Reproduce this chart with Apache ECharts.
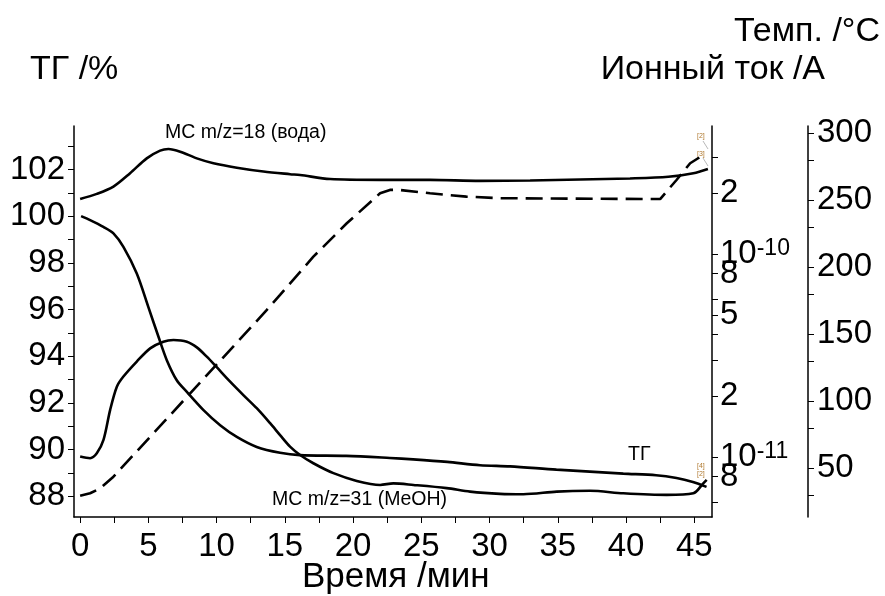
<!DOCTYPE html>
<html>
<head>
<meta charset="utf-8">
<script src="https://cdn.jsdelivr.net/npm/echarts@6/dist/echarts.min.js"></script>
<style>
html,body{margin:0;padding:0;background:#fff}
#main{width:885px;height:596px}
</style>
</head>
<body>
<div id="main"></div>
<script>
// ТГ, %
var tgTime = [0.07, 0.73, 1.7, 2.44, 3.17, 4.15, 5.0, 5.74, 6.35, 7.08, 7.82, 9.04, 10.26, 11.48, 12.94, 14.65, 16.1, 19.5, 22.7, 24.4, 26.9, 29.3, 31.5, 34.9, 39.8, 42.2, 43.7, 44.9, 45.9];
var tgValue = [100.0, 99.83, 99.54, 99.26, 98.68, 97.54, 96.1, 94.83, 93.83, 92.97, 92.47, 91.69, 91.04, 90.54, 90.11, 89.86, 89.76, 89.73, 89.64, 89.58, 89.47, 89.33, 89.28, 89.14, 88.97, 88.9, 88.78, 88.61, 88.4];

// МС m/z=18, A
var ms18Time = [0, 1.22, 2.44, 3.66, 4.88, 5.86, 6.47, 7.33, 8.55, 9.77, 11.48, 13.43, 15.38, 16.12, 18.32, 21.98, 25.64, 29.3, 32.97, 36.63, 40.29, 43.1, 44.93, 46.0];
var ms18Value = [1.866e-10, 1.977e-10, 2.148e-10, 2.5e-10, 2.958e-10, 3.228e-10, 3.289e-10, 3.192e-10, 2.958e-10, 2.799e-10, 2.661e-10, 2.547e-10, 2.472e-10, 2.449e-10, 2.339e-10, 2.317e-10, 2.317e-10, 2.291e-10, 2.301e-10, 2.328e-10, 2.355e-10, 2.399e-10, 2.5e-10, 2.624e-10];

// МС m/z=31, A
var ms31Time = [0, 0.73, 1.22, 1.71, 2.2, 2.69, 3.17, 4.15, 5.13, 6.1, 6.84, 7.82, 8.55, 9.28, 10.01, 10.99, 11.96, 12.94, 13.92, 14.65, 15.38, 16.12, 17.09, 18.56, 20.27, 21.98, 22.95, 24.42, 26.86, 28.57, 30.77, 32.48, 34.92, 37.36, 39.8, 42.98, 44.93, 45.66, 45.91];
var ms31Value = [1.005e-11, 9.86e-12, 1.042e-11, 1.213e-11, 1.706e-11, 2.218e-11, 2.489e-11, 2.951e-11, 3.428e-11, 3.698e-11, 3.767e-11, 3.698e-11, 3.467e-11, 3.119e-11, 2.767e-11, 2.35e-11, 2.018e-11, 1.738e-11, 1.466e-11, 1.282e-11, 1.125e-11, 1.023e-11, 9.31e-12, 8.32e-12, 7.62e-12, 7.28e-12, 7.41e-12, 7.28e-12, 7.02e-12, 6.75e-12, 6.58e-12, 6.55e-12, 6.75e-12, 6.81e-12, 6.62e-12, 6.5e-12, 6.62e-12, 7.41e-12, 7.71e-12];

// Темп., °C
var tempTime = [0, 0.73, 1.47, 2.44, 4.15, 6.59, 9.04, 11.48, 13.68, 14.65, 17.09, 19.54, 21.98, 22.7, 23.4, 25.64, 28.3, 30.77, 36.0, 42.5, 43.7, 44.7, 45.4];
var tempValue = [29.3, 31.1, 34.8, 43.5, 62.4, 89.4, 116.5, 143.5, 167.9, 179.1, 207.7, 232.6, 255, 257.5, 257.5, 255, 252.5, 251.3, 251, 250.7, 264.9, 277.4, 281.9];

var timeLabels = [0, 5, 10, 15, 20, 25, 30, 35, 40, 45];
var timeTicks = [0, 2.5, 5, 7.5, 10, 12.5, 15, 17.5, 20, 22.5, 25, 27.5, 30, 32.5, 35, 37.5, 40, 42.5, 45];
var tgLabels = [88, 90, 92, 94, 96, 98, 100, 102];
var tgTicks = [88, 89, 90, 91, 92, 93, 94, 95, 96, 97, 98, 99, 100, 101, 102, 103];
// the "8" labels sit on top of the decade labels, so they go on an overlay axis
var ionLabels = [1e-11, 2e-11, 5e-11, 1e-10, 2e-10];
var ionLabels8 = [8e-12, 8e-11];
var ionTicks = [6e-12, 8e-12, 1e-11, 2e-11, 3e-11, 4e-11, 5e-11, 6e-11, 8e-11, 1e-10, 2e-10, 3e-10];
var tempLabels = [50, 100, 150, 200, 250, 300];
var tempTicks = [30, 50, 80, 100, 130, 150, 180, 200, 230, 250, 280, 300];

function pairs(xs, ys) {
	return xs.map(function (x, i) { return [x, ys[i]]; });
}

var font = 'Liberation Sans, Arial, sans-serif';
var axisLine = {show: true, onZero: false, lineStyle: {color: '#000', width: 1.5}};
var tick = function (vals) {
	return {show: true, customValues: vals, length: 6, lineStyle: {color: '#000', width: 1}};
};
var lbl = {color: '#000', fontSize: 33, fontFamily: font, hideOverlap: false, showMinLabel: true, showMaxLabel: true};
var tag = '#b07a30';
var ionFormat = function (v) {
	var e = Math.floor(Math.log10(v) + 1e-6);
	var m = Math.round(v / Math.pow(10, e));
	if (m === 1) return '{a|10}{b|' + e + '}';
	return '' + m;
};
var ionRich = {
	a: {fontSize: 33, fontFamily: font, color: '#000'},
	b: {fontSize: 23, fontFamily: font, color: '#000', padding: [0, 0, 11, 0]}
};

var chart = echarts.init(document.getElementById('main'));
chart.setOption({
	animation: false,
	backgroundColor: '#fff',
	grid: {left: 74, right: 173, top: 126, bottom: 79, containLabel: false, outerBoundsMode: 'none'},
	xAxis: {
		type: 'value', min: -0.45, max: 46.3,
		axisLine: axisLine,
		axisTick: tick(timeTicks),
		axisLabel: Object.assign({customValues: timeLabels, margin: 13}, lbl),
		splitLine: {show: false}
	},
	yAxis: [{
		type: 'value', position: 'left', min: 87.11, max: 103.86,
		axisLine: axisLine,
		axisTick: tick(tgTicks),
		axisLabel: Object.assign({customValues: tgLabels, margin: 9}, lbl),
		splitLine: {show: false}
	}, {
		type: 'log', position: 'right', min: 5.06e-12, max: 4.27e-10,
		axisLine: axisLine,
		axisTick: tick(ionTicks),
		axisLabel: Object.assign({}, lbl, {customValues: ionLabels, margin: 8, formatter: ionFormat, rich: ionRich}),
		splitLine: {show: false}
	}, {
		type: 'value', position: 'right', offset: 96, min: 13.4, max: 305.2,
		axisLine: axisLine,
		axisTick: tick(tempTicks),
		axisLabel: Object.assign({customValues: tempLabels, margin: 9}, lbl),
		splitLine: {show: false}
	}, {
		type: 'log', position: 'right', min: 5.06e-12, max: 4.27e-10,
		axisLine: {show: false},
		axisTick: {show: false},
		axisLabel: Object.assign({}, lbl, {customValues: ionLabels8, margin: 8, formatter: ionFormat, rich: ionRich}),
		splitLine: {show: false}
	}],
	series: [{
		name: 'ТГ', type: 'line', yAxisIndex: 0, showSymbol: false, smooth: 0.3,
		lineStyle: {color: '#000', width: 2.6},
		data: pairs(tgTime, tgValue)
	}, {
		name: 'МС m/z=18 (вода)', type: 'line', yAxisIndex: 1, showSymbol: false, smooth: 0.3,
		lineStyle: {color: '#000', width: 2.6},
		data: pairs(ms18Time, ms18Value)
	}, {
		name: 'МС m/z=31 (MeOH)', type: 'line', yAxisIndex: 1, showSymbol: false, smooth: 0.3,
		lineStyle: {color: '#000', width: 2.6},
		data: pairs(ms31Time, ms31Value)
	}, {
		name: 'Темп.', type: 'line', yAxisIndex: 2, showSymbol: false,
		lineStyle: {color: '#000', width: 2.6, type: [17, 8]},
		data: pairs(tempTime, tempValue)
	}],
	graphic: [
		{type: 'text', left: 30, top: 53, style: {text: 'ТГ /%', fontSize: 34, fontFamily: font, fill: '#000'}},
		{type: 'text', right: 60, top: 53, style: {text: 'Ионный ток /A', fontSize: 34, fontFamily: font, fill: '#000'}},
		{type: 'text', right: 5, top: 15, style: {text: 'Темп. /°C', fontSize: 34, fontFamily: font, fill: '#000'}},
		{type: 'text', left: 302, top: 560, style: {text: 'Время /мин', fontSize: 35, fontFamily: font, fill: '#000'}},
		{type: 'text', left: 165, top: 123, style: {text: 'МС m/z=18 (вода)', fontSize: 19.5, fontFamily: font, fill: '#000'}},
		{type: 'text', left: 272, top: 490, style: {text: 'МС m/z=31 (MeOH)', fontSize: 19.5, fontFamily: font, fill: '#000'}},
		{type: 'text', left: 628, top: 445, style: {text: 'ТГ', fontSize: 19.5, fontFamily: font, fill: '#000'}},
		{type: 'text', left: 697, top: 133, style: {text: '[2]', fontSize: 7, fontFamily: font, fill: tag}},
		{type: 'text', left: 697, top: 151, style: {text: '[3]', fontSize: 7, fontFamily: font, fill: tag}},
		{type: 'text', left: 697, top: 463, style: {text: '[4]', fontSize: 7, fontFamily: font, fill: tag}},
		{type: 'text', left: 697, top: 471, style: {text: '[2]', fontSize: 7, fontFamily: font, fill: tag}},
		{type: 'line', shape: {x1: 703, y1: 141, x2: 708, y2: 149}, style: {stroke: '#888', lineWidth: 0.6}},
		{type: 'line', shape: {x1: 703, y1: 158, x2: 708, y2: 166}, style: {stroke: '#888', lineWidth: 0.6}}
	]
});
</script>
</body>
</html>
